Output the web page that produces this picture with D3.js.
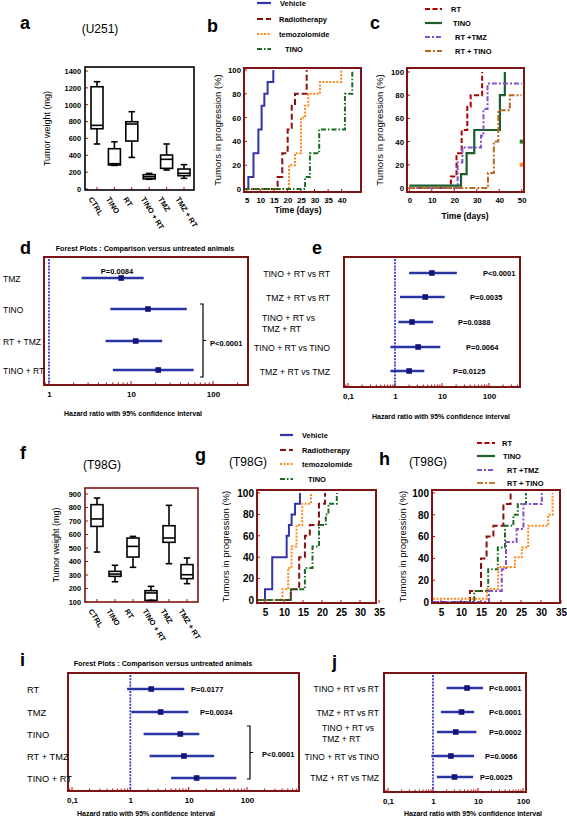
<!DOCTYPE html>
<html><head><meta charset="utf-8">
<script src="https://cdn.jsdelivr.net/npm/d3@7"></script>
<style>body{margin:0;background:#fff}svg{display:block}text{font-family:"Liberation Sans",Arial,sans-serif}</style>
</head><body><svg id="fig" width="567" height="818"></svg>
<script>
// ---------------- DATA ----------------
const boxCategories = ["CTRL","TINO","RT","TINO + RT","TMZ","TMZ + RT"];
// [min, q1, median, q3, max]
const u251Box = [[534,715,755,1213,1273],[280,285,300,478,560],[375,569,771,798,917],[115,120,145,170,185],[225,245,352,403,534],[126,158,186,237,289]];
const u251Ticks = [0,200,400,600,800,1000,1200,1400];
const t98gBox = [[470,660,715,821,870],[250,290,307,327,372],[357,433,512,574,586],[112,112,167,184,216],[384,542,574,665,816],[236,273,302,377,426]];
const t98gTicks = [100,200,300,400,500,600,700,800,900];

// survival: [day, % in progression]
const bVehicle = [[4,0],[5.6,10],[7.5,30],[9.3,50],[10.5,70],[11.5,80],[12.7,90],[14.8,100]];
const bRadio = [[4,0],[16.4,10],[18.1,30],[20.1,50],[21.6,70],[22.8,80],[27.1,100]];
const bTmz = [[4,0],[20.6,20],[22.8,30],[25.0,60],[26.5,70],[27.7,80],[32.0,90],[39.8,100]];
const bTino = [[4,0],[26.5,10],[28.3,30],[31.7,50],[41.2,80],[43.9,100]];
const bTicks = [5,10,15,20,25,30,35,40];

const cRT = [[0,0],[18.5,10],[21,30],[23.3,50],[25.8,70],[27.3,80],[32.4,100]];
const cTino = [[0,2],[23,12],[25.5,30],[28.9,50],[40.3,80],[42.5,100]];
const cRtTmz = [[0,0],[21.5,22],[23.6,35],[31.9,45],[33,68],[34.8,90],[50,90]];
const cRtTino = [[0,0],[35,13],[37.6,40],[39.6,67],[44.7,80],[50,80]];
const cCensored = [[50,40],[50,20]];
const cTicks = [0,10,20,30,40,50];

const gVehicle = [[3,0],[5,10],[6.9,40],[10.7,60],[11.3,70],[12,80],[12.9,90],[14.2,100]];
const gRadio = [[3,0],[11.8,10],[14,40],[15.5,60],[16.8,70],[19.2,90],[20.8,100]];
const gTmz = [[3,0],[9.6,10],[11.1,30],[12,50],[13.3,70],[14.8,90],[17.1,100]];
const gTino = [[3,0],[11.8,10],[15.5,30],[17.5,50],[19.2,70],[21,80],[21.7,90],[23.9,100]];
const ghTicks = [5,10,15,20,25,30,35];

const hRT = [[3,0],[12.25,10],[15,40],[16.4,60],[18.1,70],[20.6,90],[22.4,100]];
const hTino = [[3,0],[13.3,10],[16.8,30],[19.2,50],[21,70],[23.1,80],[24.2,90],[26.25,100]];
const hRtTmz = [[3,0],[17,10],[20.2,30],[21.25,55],[23.9,67],[25.6,90],[30.2,100]];
const hRtTino = [[3,3],[16.5,12],[19.3,32],[23.5,41],[25.2,50],[26.8,70],[31.8,80],[32.9,100]];
const survTicks = [0,20,40,60,80,100];

// forest plots
const dLabels = ["TMZ","TINO","RT + TMZ","TINO + RT"];
const dHR = [7.6,16.1,11.4,21.5];
const dLow = [2.5,5.6,4.9,6.0];
const dHigh = [14.3,47.9,24,58];
const dTicks = [1,10,100];

const eLabels = [["TINO + RT vs RT"],["TMZ + RT vs RT"],["TINO + RT vs","TMZ + RT"],["TINO + RT vs TINO"],["TMZ + RT vs TMZ"]];
const eHR = [6.1,4.4,2.3,3.1,2.0];
const eLow = [2.0,1.28,1.18,0.8,0.8];
const eHigh = [20.7,11.4,6.5,9.2,4.2];
const eP = ["P<0.0001","P=0.0035","P=0.0388","P=0.0064","P=0.0125"];

const iLabels = ["RT","TMZ","TINO","RT + TMZ","TINO + RT"];
const iHR = [2.28,3.3,7.2,8.3,13.7];
const iLow = [0.88,1.04,1.69,2.14,5.0];
const iHigh = [8.4,9.9,15.2,27.4,65.8];

const jLabels = eLabels;
const jHR = [5.7,4.3,3.2,2.5,3.0];
const jLow = [2.0,1.5,1.22,0.92,1.22];
const jHigh = [12.9,8.2,9.2,8.2,7.8];
const jP = ["P<0.0001","P<0.0001","P=0.0002","P=0.0066","P=0.0025"];
const logTicks = [0.1,1,10,100];
const logTickText = ["0,1","1","10","100"];

// ---------------- DRAWING ----------------
const svg = d3.select("#fig");
svg.append("rect").attr("width",567).attr("height",818).attr("fill","#fff");
const FR = "#7b1414";
const TICKRED = "#c00000";

function txt(x,y,s,opt={}){
  const t = svg.append("text").attr("x",x).attr("y",y).text(s)
    .attr("font-size",opt.size||9).attr("font-weight",opt.weight||"normal")
    .attr("text-anchor",opt.anchor||"start").attr("fill",opt.fill||"#000");
  if(opt.rotate!==undefined) t.attr("transform",`rotate(${opt.rotate},${x},${y})`);
  return t;
}
function frame(x0,y0,x1,y1,color,w){
  svg.append("rect").attr("x",x0).attr("y",y0).attr("width",x1-x0).attr("height",y1-y0)
    .attr("fill","none").attr("stroke",color).attr("stroke-width",w||1.6);
}

function boxPanel(o){
  const y = d3.scaleLinear().domain(o.yDomain).range(o.yRange);
  const x = d3.scalePoint().domain(boxCategories).range(o.catRange);
  const g = svg.append("g");
  g.selectAll("line.yt").data(o.ticks).join("line").attr("x1",o.fx0).attr("x2",o.fx0+3)
    .attr("y1",d=>y(d)).attr("y2",d=>y(d)).attr("stroke",TICKRED).attr("stroke-width",1);
  g.selectAll("line.xt").data(boxCategories).join("line").attr("x1",d=>x(d)).attr("x2",d=>x(d))
    .attr("y1",o.fy1).attr("y2",o.fy1-3).attr("stroke",TICKRED).attr("stroke-width",1);
  const ax = svg.append("g").attr("transform",`translate(${o.fx0-2},0)`)
    .call(d3.axisLeft(y).tickValues(o.ticks).tickFormat(d3.format("d")).tickSize(0).tickPadding(2));
  ax.select(".domain").remove();
  ax.selectAll("text").attr("font-size",7.4).attr("font-weight","bold").attr("font-family","Liberation Sans, Arial, sans-serif");
  frame(o.fx0,o.fy0,o.fx1,o.fy1,o.frameColor,1.6);
  const bw = 12, cw = 6.5;
  o.data.forEach((d,i)=>{
    const cx = x(boxCategories[i]);
    const [mn,q1,md,q3,mx] = d;
    const bg = svg.append("g").attr("stroke","#000").attr("stroke-width",1.6).attr("fill","none");
    bg.append("line").attr("x1",cx).attr("x2",cx).attr("y1",y(mx)).attr("y2",y(q3));
    bg.append("line").attr("x1",cx).attr("x2",cx).attr("y1",y(q1)).attr("y2",y(mn));
    bg.append("line").attr("x1",cx-cw/2).attr("x2",cx+cw/2).attr("y1",y(mx)).attr("y2",y(mx));
    bg.append("line").attr("x1",cx-cw/2).attr("x2",cx+cw/2).attr("y1",y(mn)).attr("y2",y(mn));
    bg.append("rect").attr("x",cx-bw/2).attr("width",bw).attr("y",y(q3)).attr("height",Math.max(1,y(q1)-y(q3)));
    bg.append("line").attr("x1",cx-bw/2).attr("x2",cx+bw/2).attr("y1",y(md)).attr("y2",y(md));
    txt(cx-4,o.fy1+6,boxCategories[i],{size:7.6,weight:"bold",rotate:58}).attr("dominant-baseline","hanging");
  });
  txt(o.ylabX,(o.fy0+o.fy1)/2,"Tumor weight (mg)",{size:9,anchor:"middle",rotate:-90});
}

const lineStyles = {
  solidBlue:{c:"#3333aa",d:null,w:2},
  redDash:{c:"#8b0f0f",d:"6,3",w:2},
  brightRedDash:{c:"#b00000",d:"5,2.5",w:2},
  orangeDot:{c:"#ff8a1c",d:"2,1.5",w:2},
  greenDashDot:{c:"#1b6b25",d:"5,2,1.5,2",w:2},
  greenSolid:{c:"#1b5e2b",d:null,w:2.2},
  purpleDashDot:{c:"#8450cc",d:"5,2,2,2",w:2},
  brownDashDot:{c:"#b86a20",d:"6,2,2,2",w:2},
  orangeDashDot:{c:"#c87a2a",d:"6,2,2,2",w:2}
};

function survPanel(o){
  const x = d3.scaleLinear().domain(o.xCal).range(o.xPix);
  const y = d3.scaleLinear().domain([0,100]).range(o.yPix);
  svg.selectAll(null).data(survTicks).join("line").attr("x1",o.fx0).attr("x2",o.fx0+3)
    .attr("y1",d=>y(d)).attr("y2",d=>y(d)).attr("stroke",TICKRED).attr("stroke-width",1);
  svg.selectAll(null).data(o.xTicks).join("line").attr("x1",d=>x(d)).attr("x2",d=>x(d))
    .attr("y1",o.fy1).attr("y2",o.fy1-3).attr("stroke",TICKRED).attr("stroke-width",1);
  const line = d3.line().x(d=>x(d[0])).y(d=>y(d[1])).curve(d3.curveStepAfter);
  o.series.forEach(s=>{
    const st = lineStyles[s.style];
    svg.append("path").datum(s.data).attr("d",line).attr("fill","none").attr("stroke",st.c)
      .attr("stroke-width",st.w).attr("stroke-dasharray",st.d);
  });
  (o.censored||[]).forEach((p,i)=>{
    svg.append("rect").attr("x",x(p[0])-2).attr("y",y(p[1])-2).attr("width",4).attr("height",4)
      .attr("fill",o.censorColors[i]);
  });
  frame(o.fx0,o.fy0,o.fx1,o.fy1,FR,2);
  const ay = svg.append("g").attr("transform",`translate(${o.fx0-2},0)`)
    .call(d3.axisLeft(y).tickValues(survTicks).tickSize(0).tickPadding(1));
  ay.select(".domain").remove();
  ay.selectAll("text").attr("font-size",o.tickSize).attr("font-weight","bold").attr("font-family","Liberation Sans, Arial, sans-serif");
  const axx = svg.append("g").attr("transform",`translate(0,${o.fy1})`)
    .call(d3.axisBottom(x).tickValues(o.xTicks).tickSize(0).tickPadding(o.xPad));
  axx.select(".domain").remove();
  axx.selectAll("text").attr("font-size",o.tickSize).attr("font-weight","bold").attr("font-family","Liberation Sans, Arial, sans-serif");
  txt(o.ylabX,(o.fy0+o.fy1)/2,"Tumors in progression (%)",{size:9.5,anchor:"middle",rotate:-90});
  if(o.xlab) txt(o.xlab[0],o.xlab[1],"Time (days)",{size:8.5,weight:"bold",anchor:"middle"});
  o.legend.forEach((l,i)=>{
    const st = lineStyles[l.style];
    svg.append("line").attr("x1",o.legX0).attr("x2",o.legX1).attr("y1",l.y).attr("y2",l.y)
      .attr("stroke",st.c).attr("stroke-width",2.2).attr("stroke-dasharray",st.d);
    txt(l.tx,l.y+3,l.name,{size:7.5,weight:"bold"});
  });
}

function forestPanel(o){
  const x = d3.scaleLog().domain(o.xCal).range(o.xPix);
  const rowsY = o.rows;
  const minor = [];
  for(let dec=o.minDec; dec<o.maxDec; dec++) for(let k=1;k<10;k++){ const v=k*Math.pow(10,dec); if(x(v)>=o.fx0 && x(v)<=o.fx1) minor.push(v); }
  svg.selectAll(null).data(minor).join("line").attr("x1",d=>x(d)).attr("x2",d=>x(d))
    .attr("y1",o.fy1).attr("y2",d=>o.fy1-(Math.abs(Math.log10(d)-Math.round(Math.log10(d)))<1e-6?4:2.5))
    .attr("stroke",TICKRED).attr("stroke-width",1);
  svg.append("line").attr("x1",x(1)).attr("x2",x(1)).attr("y1",o.fy0+2).attr("y2",o.fy1)
    .attr("stroke","#3a3ad0").attr("stroke-width",1.8).attr("stroke-dasharray","2,1.2");
  o.hr.forEach((v,i)=>{
    svg.append("line").attr("x1",x(o.low[i])).attr("x2",x(o.high[i])).attr("y1",rowsY[i]).attr("y2",rowsY[i])
      .attr("stroke","#2b34a3").attr("stroke-width",2.6);
    svg.append("rect").attr("x",x(v)-2.8).attr("y",rowsY[i]-2.8).attr("width",5.6).attr("height",5.6).attr("fill","#14147a");
  });
  frame(o.fx0,o.fy0,o.fx1,o.fy1,FR,2);
  const axx = svg.append("g").attr("transform",`translate(0,${o.fy1})`)
    .call(d3.axisBottom(x).tickValues(o.ticks).tickFormat((d,i)=>o.tickText[i]).tickSize(0).tickPadding(6));
  axx.select(".domain").remove();
  axx.selectAll("text").attr("font-size",8).attr("font-weight","bold").attr("font-family","Liberation Sans, Arial, sans-serif");
  txt(o.axLab[0],o.axLab[1],"Hazard ratio with 95% confidence interval",{size:7,weight:"bold",anchor:"middle"});
  o.labels.forEach((lab,i)=>{
    const arr = Array.isArray(lab)?lab:[lab];
    if(arr.length===1){
      txt(o.labX,rowsY[i]+3.5,arr[0],{size:o.labSize||9,anchor:o.labAnchor});
    } else {
      txt(o.labX2,rowsY[i]-1,arr[0],{size:o.labSize||9,anchor:"start"});
      txt(o.labX2,rowsY[i]+10,arr[1],{size:o.labSize||9,anchor:"start"});
    }
  });
  (o.pLabels||[]).forEach((p,i)=>{ txt(o.pX[i],rowsY[i]+3,p,{size:7.5,weight:"bold"}); });
}

function bracket(x,y0,y1,label,lx,ly){
  svg.append("path").attr("d",`M${x-3},${y0} H${x} V${y1} H${x-3} M${x},${(y0+y1)/2} H${x+3}`)
    .attr("fill","none").attr("stroke","#000").attr("stroke-width",1.2);
  txt(lx,ly,label,{size:7.5,weight:"bold"});
}

// ---- panel a ----
txt(20,29,"a",{size:18,weight:"bold"});
txt(100,33,"(U251)",{size:12,anchor:"middle"});
boxPanel({data:u251Box,ticks:u251Ticks,yDomain:[0,1400],yRange:[189,71],catRange:[97,184],
  fx0:85,fy0:67,fx1:194,fy1:190,frameColor:"#000",ylabX:50});

// ---- panel b ----
txt(207,32,"b",{size:18,weight:"bold"});
survPanel({fx0:244,fy0:68,fx1:361,fy1:192,xCal:[5,40],xPix:[246.7,341.7],yPix:[189,70],xTicks:bTicks,
  tickSize:7.8,xPad:5,ylabX:221,xlab:[298,213],
  series:[{data:bVehicle,style:"solidBlue"},{data:bRadio,style:"redDash"},{data:bTmz,style:"orangeDot"},{data:bTino,style:"greenDashDot"}],
  legX0:257,legX1:271,legend:[{name:"Vehicle",y:3,tx:280,style:"solidBlue"},{name:"Radiotherapy",y:19,tx:279,style:"redDash"},
    {name:"temozolomide",y:34,tx:279,style:"orangeDot"},{name:"TINO",y:49,tx:285,style:"greenDashDot"}]});

// ---- panel c ----
txt(370,29,"c",{size:18,weight:"bold"});
survPanel({fx0:407,fy0:68,fx1:524,fy1:192,xCal:[0,50],xPix:[409.3,521.7],yPix:[188,72],xTicks:cTicks,
  tickSize:7.8,xPad:5,ylabX:383,xlab:[465,219],
  series:[{data:cRT,style:"brightRedDash"},{data:cTino,style:"greenSolid"},{data:cRtTmz,style:"purpleDashDot"},{data:cRtTino,style:"brownDashDot"}],
  censored:cCensored,censorColors:["#1b7a2b","#ff8a1c"],
  legX0:425,legX1:442,legend:[{name:"RT",y:9,tx:451,style:"brightRedDash"},{name:"TINO",y:23,tx:453,style:"greenSolid"},
    {name:"RT +TMZ",y:37,tx:455,style:"purpleDashDot"},{name:"RT + TINO",y:51,tx:455,style:"brownDashDot"}]});

// ---- panel d ----
txt(20,254,"d",{size:18,weight:"bold"});
txt(145,251,"Forest Plots : Comparison versus untreated animals",{size:7.2,weight:"bold",anchor:"middle"});
forestPanel({fx0:44,fy0:257,fx1:248,fy1:385,xCal:[1,100],xPix:[49,213],minDec:-1,maxDec:3,rows:[278,309,341,370],
  hr:dHR,low:dLow,high:dHigh,ticks:dTicks,tickText:["1","10","100"],axLab:[133,416],
  labels:dLabels,labX:3,labAnchor:"start",labSize:8.5});
txt(117,274,"P=0.0084",{size:7.5,weight:"bold",anchor:"middle"});
bracket(203,304,377,"P<0.0001",210,346);

// ---- panel e ----
txt(312,254,"e",{size:18,weight:"bold"});
forestPanel({fx0:344,fy0:257,fx1:520,fy1:387,xCal:[0.1,100],xPix:[348,489],minDec:-2,maxDec:3,rows:[273,297,322,347,371],
  hr:eHR,low:eLow,high:eHigh,ticks:logTicks,tickText:logTickText,axLab:[441,419],
  labels:eLabels,labX:330,labX2:262,labAnchor:"end",labSize:8.7,pLabels:eP,pX:[483,470,458,466,453]});

// ---- panel f ----
txt(20,459,"f",{size:18,weight:"bold"});
txt(102,469,"(T98G)",{size:12,anchor:"middle"});
boxPanel({data:t98gBox,ticks:t98gTicks,yDomain:[100,900],yRange:[602,494],catRange:[97,187],
  fx0:85,fy0:488,fx1:198,fy1:602,frameColor:FR,ylabX:59});

// ---- panel g ----
txt(195,461,"g",{size:18,weight:"bold"});
txt(248,466,"(T98G)",{size:12,anchor:"middle"});
survPanel({fx0:257,fy0:490,fx1:376,fy1:603,xCal:[5,35],xPix:[265,379],yPix:[600,493],xTicks:ghTicks,
  tickSize:10,xPad:6,ylabX:229,
  series:[{data:gVehicle,style:"solidBlue"},{data:gRadio,style:"redDash"},{data:gTmz,style:"orangeDot"},{data:gTino,style:"greenDashDot"}],
  legX0:280,legX1:293,legend:[{name:"Vehicle",y:435,tx:302,style:"solidBlue"},{name:"Radiotherapy",y:450,tx:302,style:"redDash"},
    {name:"temozolomide",y:464,tx:302,style:"orangeDot"},{name:"TINO",y:479,tx:308,style:"greenDashDot"}]});

// ---- panel h ----
txt(379,465,"h",{size:18,weight:"bold"});
txt(428,466,"(T98G)",{size:12,anchor:"middle"});
survPanel({fx0:432,fy0:490,fx1:560,fy1:603,xCal:[5,35],xPix:[441,561],yPix:[602,493],xTicks:ghTicks,
  tickSize:10,xPad:6,ylabX:406,
  series:[{data:hRT,style:"redDash"},{data:hTino,style:"greenDashDot"},{data:hRtTmz,style:"purpleDashDot"},{data:hRtTino,style:"orangeDot"}],
  legX0:477,legX1:495,legend:[{name:"RT",y:443,tx:502,style:"brightRedDash"},{name:"TINO",y:456,tx:503,style:"greenSolid"},
    {name:"RT +TMZ",y:470,tx:507,style:"purpleDashDot"},{name:"RT + TINO",y:483,tx:507,style:"orangeDashDot"}]});

// ---- panel i ----
txt(20,666,"i",{size:18,weight:"bold"});
txt(163,666,"Forest Plots : Comparison versus untreated animals",{size:7.2,weight:"bold",anchor:"middle"});
forestPanel({fx0:68,fy0:673,fx1:299,fy1:791,xCal:[0.1,100],xPix:[72,247],minDec:-2,maxDec:3,rows:[689,712,734,756,778],
  hr:iHR,low:iLow,high:iHigh,ticks:logTicks,tickText:logTickText,axLab:[146,816],
  labels:iLabels,labX:27,labAnchor:"start",labSize:9.3,pLabels:["P=0.0177","P=0.0034"],pX:[191,200]});
bracket(250,726,779,"P<0.0001",262,757);

// ---- panel j ----
txt(332,668,"j",{size:18,weight:"bold"});
forestPanel({fx0:384,fy0:673,fx1:526,fy1:792,xCal:[0.1,100],xPix:[388,523],minDec:-2,maxDec:3,rows:[688,712,732,756,777],
  hr:jHR,low:jLow,high:jHigh,ticks:logTicks,tickText:logTickText,axLab:[473,816],
  labels:jLabels,labX:379,labX2:322,labAnchor:"end",labSize:8.5,pLabels:jP,pX:[489,489,489,485,480]});
</script></body></html>
